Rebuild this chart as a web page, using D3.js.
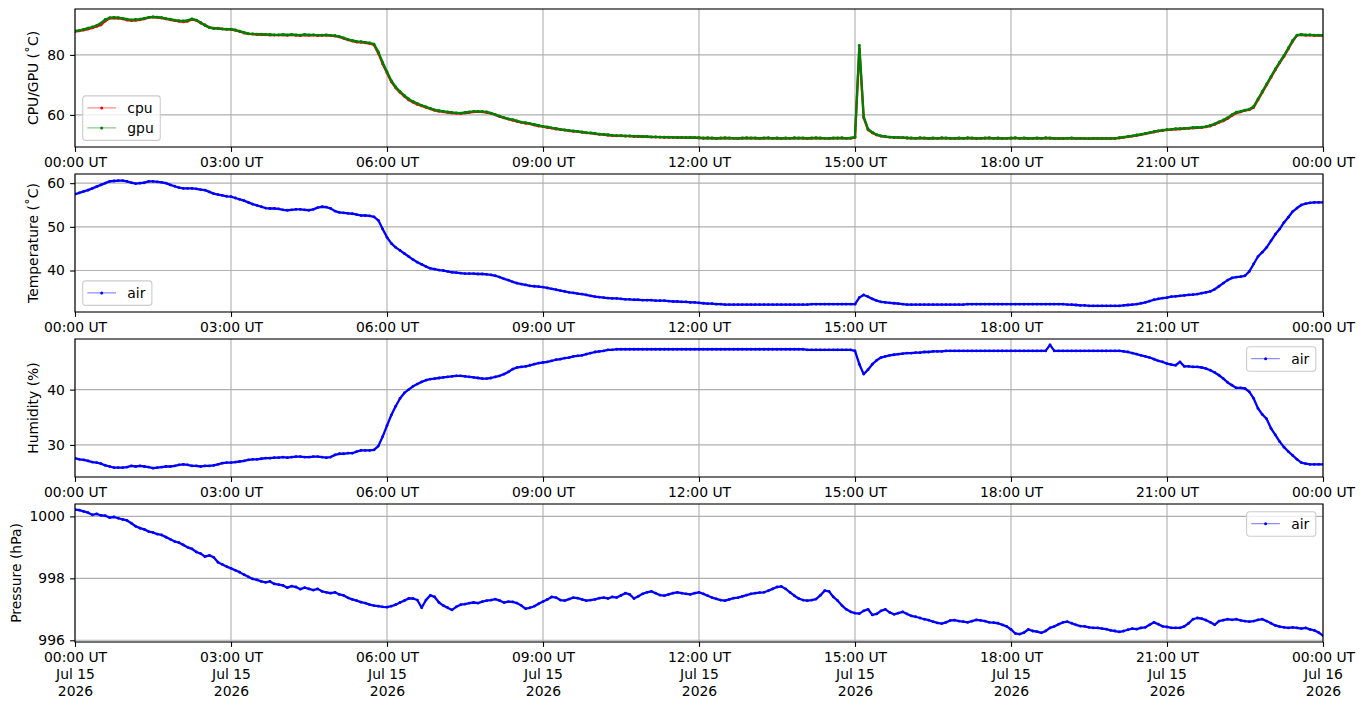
<!DOCTYPE html>
<html>
<head>
<meta charset="utf-8">
<script src="https://cdn.jsdelivr.net/npm/d3@7"></script>
<style>
body { margin: 0; background: #fff; }
svg { font-family: "DejaVu Sans", sans-serif; }
</style>
</head>
<body>
<svg id="chart"></svg>
<script>
var width = 1364;
var height = 707;
var margin = {'left': 75, 'right': 41, 'top': 9};
var panelHeight = 138;
var panelStep = 165;
var fontSize = 13.9;

// sampling: one value every 5 minutes, 00:00 UT to 24:00 UT
const startTime = "2026-07-15T00:00:00Z";
const endTime = "2026-07-16T00:00:00Z";
const stepMinutes = 5;

const cpuTemp = [
  87.8, 88.0, 88.3, 88.6, 89.0, 89.5, 90.0, 91.3, 92.2, 92.3, 92.2, 92.0,
  91.6, 91.4, 91.5, 91.7, 92.0, 92.4, 92.6, 92.5, 92.3, 92.0, 91.7, 91.4,
  91.2, 91.0, 91.2, 91.8, 91.5, 90.6, 90.0, 89.2, 88.9, 88.8, 88.7, 88.6,
  88.5, 88.2, 87.8, 87.3, 87.0, 86.9, 86.8, 86.7, 86.7, 86.6, 86.6, 86.6,
  86.6, 86.5, 86.7, 86.5, 86.4, 86.6, 86.5, 86.6, 86.4, 86.5, 86.5, 86.4,
  86.3, 86.0, 85.5, 85.0, 84.6, 84.3, 84.2, 84.0, 83.8, 83.3, 80.5, 77.0,
  74.0, 71.0, 69.0, 67.5, 66.2, 65.0, 64.2, 63.5, 63.0, 62.5, 62.0, 61.5,
  61.2, 61.0, 60.8, 60.6, 60.5, 60.4, 60.6, 60.8, 61.0, 61.1, 61.0, 60.8,
  60.5, 60.0, 59.4, 59.0, 58.6, 58.2, 57.8, 57.5, 57.2, 57.0, 56.6, 56.3,
  56.1, 55.8, 55.6, 55.3, 55.1, 54.9, 54.7, 54.5, 54.4, 54.2, 54.0, 53.9,
  53.7, 53.5, 53.4, 53.2, 53.1, 53.0, 53.0, 52.9, 52.9, 52.8, 52.8, 52.7,
  52.7, 52.6, 52.6, 52.6, 52.5, 52.5, 52.5, 52.4, 52.4, 52.4, 52.4, 52.4,
  52.3, 52.2, 52.3, 52.2, 52.1, 52.2, 52.3, 52.2, 52.2, 52.1, 52.2, 52.3,
  52.2, 52.2, 52.1, 52.2, 52.3, 52.2, 52.2, 52.1, 52.2, 52.2, 52.3, 52.2,
  52.2, 52.1, 52.2, 52.3, 52.2, 52.2, 52.1, 52.2, 52.2, 52.3, 52.2, 52.2,
  52.5, 82.0, 59.0, 55.0, 54.0, 53.3, 52.9, 52.7, 52.6, 52.5, 52.4, 52.4,
  52.3, 52.2, 52.2, 52.3, 52.2, 52.1, 52.2, 52.2, 52.3, 52.2, 52.2, 52.1,
  52.2, 52.2, 52.3, 52.2, 52.1, 52.2, 52.2, 52.3, 52.2, 52.2, 52.1, 52.2,
  52.2, 52.3, 52.2, 52.2, 52.1, 52.2, 52.2, 52.2, 52.3, 52.2, 52.1, 52.2,
  52.1, 52.2, 52.2, 52.1, 52.2, 52.1, 52.1, 52.2, 52.1, 52.1, 52.2, 52.1,
  52.2, 52.3, 52.5, 52.7, 52.9, 53.1, 53.4, 53.7, 54.0, 54.3, 54.6, 54.8,
  55.0, 55.1, 55.2, 55.3, 55.4, 55.5, 55.6, 55.7, 55.8, 56.0, 56.3, 56.8,
  57.5, 58.0, 58.8, 59.8, 60.6, 61.0, 61.5, 61.7, 62.5, 65.0, 67.5, 70.0,
  72.5, 75.0, 77.3, 79.5, 82.0, 84.5, 86.5, 86.7, 86.5, 86.6, 86.4, 86.5,
  86.4
];

const gpuTemp = [
  88.0, 88.2, 88.5, 88.9, 89.3, 89.8, 90.6, 91.8, 92.4, 92.5, 92.4, 92.2,
  91.9, 91.7, 91.8, 91.9, 92.2, 92.5, 92.7, 92.6, 92.4, 92.1, 91.9, 91.6,
  91.4, 91.3, 91.5, 92.0, 91.6, 90.8, 89.8, 89.1, 88.8, 88.9, 88.6, 88.5,
  88.6, 88.3, 87.9, 87.5, 87.1, 87.0, 86.9, 86.9, 86.8, 86.8, 86.7, 86.7,
  86.8, 86.7, 86.8, 86.7, 86.6, 86.8, 86.7, 86.7, 86.6, 86.6, 86.7, 86.5,
  86.4, 86.1, 85.7, 85.2, 84.8, 84.5, 84.4, 84.2, 84.0, 83.6, 81.0, 77.5,
  74.4, 71.4, 69.3, 67.8, 66.5, 65.3, 64.5, 63.8, 63.2, 62.7, 62.2, 61.7,
  61.4, 61.2, 61.0, 60.8, 60.7, 60.6, 60.8, 61.0, 61.2, 61.2, 61.1, 61.0,
  60.6, 60.1, 59.6, 59.1, 58.7, 58.4, 58.0, 57.6, 57.4, 57.1, 56.8, 56.5,
  56.2, 56.0, 55.7, 55.5, 55.2, 55.0, 54.8, 54.7, 54.5, 54.3, 54.1, 54.0,
  53.8, 53.6, 53.5, 53.4, 53.2, 53.1, 53.1, 53.0, 53.0, 52.9, 52.9, 52.8,
  52.8, 52.7, 52.7, 52.6, 52.6, 52.6, 52.5, 52.5, 52.5, 52.4, 52.5, 52.4,
  52.4, 52.3, 52.3, 52.3, 52.2, 52.3, 52.3, 52.3, 52.2, 52.2, 52.3, 52.3,
  52.3, 52.3, 52.2, 52.3, 52.3, 52.2, 52.3, 52.2, 52.3, 52.2, 52.3, 52.3,
  52.3, 52.2, 52.3, 52.3, 52.3, 52.2, 52.2, 52.3, 52.3, 52.3, 52.2, 52.3,
  52.6, 83.2, 59.5, 55.3, 54.2, 53.4, 53.0, 52.8, 52.6, 52.5, 52.5, 52.4,
  52.3, 52.3, 52.2, 52.3, 52.3, 52.2, 52.3, 52.2, 52.3, 52.3, 52.2, 52.2,
  52.3, 52.2, 52.3, 52.3, 52.2, 52.2, 52.3, 52.3, 52.2, 52.3, 52.2, 52.2,
  52.3, 52.3, 52.2, 52.3, 52.2, 52.2, 52.3, 52.2, 52.3, 52.3, 52.2, 52.2,
  52.2, 52.2, 52.3, 52.2, 52.2, 52.2, 52.1, 52.2, 52.2, 52.2, 52.2, 52.2,
  52.2, 52.4, 52.6, 52.8, 53.0, 53.3, 53.5, 53.8, 54.1, 54.4, 54.7, 54.9,
  55.1, 55.2, 55.4, 55.4, 55.5, 55.6, 55.8, 55.8, 55.9, 56.1, 56.5, 57.0,
  57.7, 58.3, 59.1, 60.1, 60.9, 61.2, 61.6, 61.9, 62.8, 65.3, 67.8, 70.3,
  72.8, 75.3, 77.6, 79.8, 82.3, 84.8, 86.6, 86.8, 86.7, 86.7, 86.6, 86.6,
  86.5
];

const airTemp = [
  57.5, 57.8, 58.1, 58.4, 58.8, 59.2, 59.6, 60.0, 60.4, 60.5, 60.6, 60.6,
  60.4, 60.1, 59.9, 60.0, 60.1, 60.4, 60.4, 60.3, 60.2, 60.0, 59.6, 59.3,
  59.0, 58.8, 58.8, 58.8, 58.7, 58.5, 58.4, 58.0, 57.6, 57.4, 57.2, 57.0,
  56.9, 56.6, 56.3, 56.0, 55.6, 55.2, 54.9, 54.6, 54.3, 54.2, 54.2, 54.1,
  53.9, 53.8, 53.9, 54.0, 54.0, 53.9, 53.8, 54.0, 54.4, 54.6, 54.5, 54.2,
  53.6, 53.3, 53.2, 53.1, 53.0, 52.8, 52.6, 52.6, 52.5, 52.3, 51.5, 49.5,
  47.6, 46.2, 45.3, 44.6, 43.9, 43.2, 42.5, 41.9, 41.4, 40.9, 40.5, 40.3,
  40.1, 40.0, 39.8, 39.6, 39.5, 39.4, 39.3, 39.3, 39.3, 39.2, 39.2, 39.1,
  39.0, 38.8, 38.5, 38.1, 37.8, 37.4, 37.1, 36.9, 36.7, 36.5, 36.4, 36.3,
  36.2, 36.0, 35.8, 35.6, 35.4, 35.2, 35.0, 34.9, 34.7, 34.6, 34.4, 34.2,
  34.0, 33.9, 33.8, 33.7, 33.6, 33.6, 33.5, 33.4, 33.4, 33.3, 33.3, 33.2,
  33.2, 33.2, 33.1, 33.1, 33.1, 33.0, 32.9, 32.9, 32.8, 32.8, 32.7, 32.7,
  32.6, 32.5, 32.4, 32.4, 32.3, 32.3, 32.2, 32.2, 32.2, 32.2, 32.2, 32.2,
  32.2, 32.2, 32.2, 32.2, 32.2, 32.2, 32.2, 32.2, 32.2, 32.2, 32.2, 32.2,
  32.2, 32.2, 32.3, 32.3, 32.3, 32.3, 32.3, 32.3, 32.3, 32.3, 32.3, 32.3,
  32.3, 33.8, 34.4, 34.0, 33.5, 33.1, 32.8, 32.7, 32.6, 32.5, 32.4, 32.3,
  32.2, 32.2, 32.2, 32.2, 32.2, 32.2, 32.2, 32.2, 32.2, 32.2, 32.2, 32.2,
  32.2, 32.2, 32.3, 32.3, 32.3, 32.3, 32.3, 32.3, 32.3, 32.3, 32.3, 32.3,
  32.3, 32.3, 32.3, 32.3, 32.3, 32.3, 32.3, 32.3, 32.3, 32.3, 32.3, 32.3,
  32.3, 32.2, 32.2, 32.1, 32.0, 32.0, 31.9, 31.9, 31.9, 31.9, 31.9, 31.9,
  31.9, 31.9, 32.0, 32.1, 32.2, 32.3, 32.5, 32.7, 33.0, 33.3, 33.5, 33.7,
  33.8, 34.0, 34.1, 34.2, 34.3, 34.4, 34.5, 34.6, 34.8, 35.0, 35.2, 35.7,
  36.4, 37.1, 37.8, 38.3, 38.5, 38.6, 38.8, 39.8, 41.5, 43.2, 44.2, 45.3,
  46.8, 48.3, 49.5, 51.0, 52.2, 53.5, 54.3, 55.0, 55.3, 55.5, 55.6, 55.6,
  55.6
];

const airHumidity = [
  27.6, 27.4, 27.3, 27.1, 26.9, 26.8, 26.6, 26.3, 26.1, 25.9, 25.9, 25.9,
  26.0, 26.2, 26.1, 26.2, 26.1, 26.0, 25.8, 25.9, 26.0, 26.1, 26.1, 26.2,
  26.4, 26.5, 26.4, 26.2, 26.2, 26.1, 26.2, 26.2, 26.3, 26.5, 26.7, 26.8,
  26.8, 26.9, 27.0, 27.1, 27.3, 27.4, 27.4, 27.5, 27.6, 27.6, 27.7, 27.7,
  27.8, 27.7, 27.8, 27.9, 27.9, 27.8, 27.8, 27.9, 27.9, 27.8, 27.7, 27.8,
  28.2, 28.4, 28.4, 28.5, 28.5, 28.8, 29.0, 29.0, 29.0, 29.1, 29.8, 31.5,
  33.5, 35.4, 37.0, 38.4, 39.4, 40.0, 40.6, 41.0, 41.4, 41.7, 41.9, 42.0,
  42.1, 42.2, 42.3, 42.4, 42.5, 42.5, 42.4, 42.3, 42.2, 42.1, 42.0, 42.0,
  42.1, 42.3, 42.5, 42.8, 43.2, 43.7, 44.0, 44.1, 44.2, 44.4, 44.6, 44.8,
  44.9, 45.0, 45.2, 45.4, 45.5, 45.7, 45.8, 46.0, 46.1, 46.2, 46.4, 46.6,
  46.8, 46.9, 47.0, 47.2, 47.2, 47.3, 47.3, 47.3, 47.3, 47.3, 47.3, 47.3,
  47.3, 47.3, 47.3, 47.3, 47.3, 47.3, 47.3, 47.3, 47.3, 47.3, 47.3, 47.3,
  47.3, 47.3, 47.3, 47.3, 47.3, 47.3, 47.3, 47.3, 47.3, 47.3, 47.3, 47.3,
  47.3, 47.3, 47.3, 47.3, 47.3, 47.3, 47.3, 47.3, 47.3, 47.3, 47.3, 47.3,
  47.3, 47.2, 47.2, 47.2, 47.2, 47.2, 47.2, 47.2, 47.2, 47.2, 47.2, 47.2,
  47.0, 44.6, 42.8, 43.6, 44.6, 45.3, 45.8, 46.0, 46.2, 46.3, 46.4, 46.5,
  46.6, 46.6, 46.7, 46.7, 46.8, 46.8, 46.9, 46.9, 46.9, 47.0, 47.0, 47.0,
  47.0, 47.0, 47.0, 47.0, 47.0, 47.0, 47.0, 47.0, 47.0, 47.0, 47.0, 47.0,
  47.0, 47.0, 47.0, 47.0, 47.0, 47.0, 47.0, 47.0, 47.0, 48.1, 47.0, 47.0,
  47.0, 47.0, 47.0, 47.0, 47.0, 47.0, 47.0, 47.0, 47.0, 47.0, 47.0, 47.0,
  47.0, 47.0, 46.9, 46.8, 46.6, 46.4, 46.2, 46.0, 45.8, 45.5, 45.2, 45.0,
  44.7, 44.5, 44.4, 45.0, 44.2, 44.2, 44.1, 44.1, 44.0, 43.8, 43.5, 43.1,
  42.6, 42.0, 41.3, 40.8, 40.3, 40.3, 40.2, 39.6, 38.4, 36.6, 35.5, 34.7,
  33.0, 31.8, 30.6, 29.6, 28.8, 28.1, 27.4, 26.8, 26.6, 26.5, 26.5, 26.5,
  26.5
];

const airPressure = [
  1000.22, 1000.20, 1000.16, 1000.12, 1000.05, 1000.08, 1000.03, 1000.02, 999.96, 999.98, 999.94, 999.90,
  999.87, 999.78, 999.68, 999.62, 999.58, 999.51, 999.48, 999.43, 999.40, 999.33, 999.26, 999.19,
  999.15, 999.08, 999.00, 998.95, 998.85, 998.80, 998.70, 998.74, 998.68, 998.52, 998.45, 998.38,
  998.32, 998.26, 998.20, 998.12, 998.05, 997.98, 997.95, 997.90, 997.87, 997.90, 997.82, 997.80,
  997.77, 997.70, 997.75, 997.72, 997.65, 997.70, 997.66, 997.62, 997.66, 997.58, 997.55, 997.52,
  997.55, 997.48, 997.45, 997.37, 997.32, 997.28, 997.23, 997.20, 997.15, 997.12, 997.10, 997.08,
  997.07, 997.10, 997.15, 997.22, 997.28, 997.35, 997.35, 997.30, 997.05, 997.30, 997.45, 997.40,
  997.22, 997.12, 997.05, 996.98, 997.08, 997.15, 997.17, 997.20, 997.22, 997.20, 997.25, 997.28,
  997.30, 997.33, 997.28, 997.22, 997.25, 997.24, 997.20, 997.12, 997.02, 997.05, 997.10, 997.18,
  997.25, 997.32, 997.40, 997.38, 997.30, 997.28, 997.33, 997.38, 997.36, 997.32, 997.28, 997.30,
  997.32, 997.36, 997.38, 997.35, 997.40, 997.38, 997.45, 997.52, 997.48, 997.35, 997.42, 997.50,
  997.55, 997.58, 997.52, 997.46, 997.44, 997.48, 997.52, 997.55, 997.52, 997.50, 997.48, 997.52,
  997.55, 997.50, 997.44, 997.38, 997.34, 997.30, 997.28, 997.32, 997.36, 997.38, 997.42, 997.46,
  997.50, 997.52, 997.54, 997.55, 997.60, 997.66, 997.72, 997.74, 997.66, 997.55, 997.44, 997.35,
  997.30, 997.28, 997.30, 997.33, 997.45, 997.60, 997.58, 997.40, 997.28, 997.12, 997.00, 996.92,
  996.88, 996.86, 996.95, 997.00, 996.82, 996.85, 996.95, 997.00, 996.90, 996.84, 996.88, 996.92,
  996.85, 996.79, 996.76, 996.72, 996.68, 996.65, 996.60, 996.56, 996.54, 996.58, 996.64, 996.65,
  996.62, 996.60, 996.58, 996.62, 996.66, 996.64, 996.62, 996.58, 996.57, 996.55, 996.50, 996.45,
  996.35, 996.22, 996.20, 996.25, 996.35, 996.30, 996.28, 996.24, 996.30, 996.40, 996.45, 996.52,
  996.58, 996.60, 996.55, 996.50, 996.46, 996.45, 996.42, 996.40, 996.40, 996.38, 996.36, 996.32,
  996.30, 996.27, 996.30, 996.34, 996.38, 996.36, 996.40, 996.42, 996.50, 996.58, 996.52, 996.45,
  996.43, 996.40, 996.40, 996.40, 996.45, 996.55, 996.68, 996.72, 996.70, 996.65, 996.58, 996.50,
  996.62, 996.65, 996.68, 996.66, 996.68, 996.64, 996.62, 996.60, 996.62, 996.66, 996.68, 996.62,
  996.55, 996.48, 996.44, 996.42, 996.40, 996.42, 996.40, 996.38, 996.40, 996.35, 996.32, 996.25,
  996.15
];

// y axes
const cpuDomain = [49.3, 95.3];
const cpuTicks = [60, 80];
const tempDomain = [30.5, 62.1];
const tempTicks = [40, 50, 60];
const humDomain = [24.2, 49.15];
const humTicks = [30, 40];
const presDomain = [995.945, 1000.40];
const presTicks = [996, 998, 1000];
const yLabels = ['CPU/GPU (\u02DAC)', 'Temperature (\u02DAC)', 'Humidity (%)', 'Pressure (hPa)'];

const t0 = new Date(startTime);
const times = cpuTemp.map((d, i) => new Date(t0.getTime() + i * stepMinutes * 60000));

var x = d3.scaleUtc()
    .domain([new Date(startTime), new Date(endTime)])
    .range([margin.left, width - margin.right]);

const xTicks = d3.utcHour.every(3).range(new Date(startTime), new Date(new Date(endTime).getTime() + 1));
const fmtTime = d => d3.utcFormat('%H:%M')(d) + ' UT';
const fmtDay = d3.utcFormat('%b %d');
const fmtYear = d3.utcFormat('%Y');

const svg = d3.select('#chart')
    .attr('width', width)
    .attr('height', height)
    .attr('font-size', fontSize);

const panels = [
  {domain: cpuDomain, ticks: cpuTicks, label: yLabels[0], legend: 'lower left',
   series: [{name: 'cpu', values: cpuTemp, color: '#ff0000'}, {name: 'gpu', values: gpuTemp, color: '#008000'}]},
  {domain: tempDomain, ticks: tempTicks, label: yLabels[1], legend: 'lower left',
   series: [{name: 'air', values: airTemp, color: '#0000ff'}]},
  {domain: humDomain, ticks: humTicks, label: yLabels[2], legend: 'upper right',
   series: [{name: 'air', values: airHumidity, color: '#0000ff'}]},
  {domain: presDomain, ticks: presTicks, label: yLabels[3], legend: 'upper right',
   series: [{name: 'air', values: airPressure, color: '#0000ff'}]}
];

panels.forEach((p, k) => {
  const top = margin.top + k * panelStep;
  const bottom = top + panelHeight;
  const left = margin.left, right = width - margin.right;

  var y = d3.scaleLinear().domain(p.domain).range([bottom, top]);
  const g = svg.append('g');

  g.append('clipPath').attr('id', 'clip' + k)
    .append('rect').attr('x', left).attr('y', top).attr('width', right - left).attr('height', panelHeight);

  // grid
  g.append('g').selectAll('line').data(xTicks).join('line')
    .attr('x1', d => x(d)).attr('x2', d => x(d)).attr('y1', top).attr('y2', bottom)
    .attr('stroke', '#b0b0b0').attr('stroke-width', 1.1);
  g.append('g').selectAll('line').data(p.ticks).join('line')
    .attr('x1', left).attr('x2', right).attr('y1', d => y(d)).attr('y2', d => y(d))
    .attr('stroke', '#b0b0b0').attr('stroke-width', 1.1);

  const line = d3.line().x((d, i) => x(times[i])).y(d => y(d));
  const plot = g.append('g').attr('clip-path', 'url(#clip' + k + ')');
  p.series.forEach(s => {
    plot.append('path').datum(s.values)
      .attr('fill', 'none').attr('stroke', s.color).attr('stroke-width', 2.3)
      .attr('stroke-linejoin', 'round').attr('d', line);
    plot.append('g').selectAll('circle').data(s.values).join('circle')
      .attr('cx', (d, i) => x(times[i])).attr('cy', d => y(d)).attr('r', 1.4)
      .attr('fill', s.color);
  });

  // spines
  g.append('rect').attr('x', left).attr('y', top).attr('width', right - left).attr('height', panelHeight)
    .attr('fill', 'none').attr('stroke', '#000').attr('stroke-width', 1.1);

  // x axis
  const xAxis = d3.axisBottom(x).tickValues(xTicks).tickSize(4.9).tickPadding(5.5).tickFormat(fmtTime);
  const xg = g.append('g').attr('transform', `translate(0,${bottom})`).call(xAxis);
  xg.select('.domain').remove();
  xg.selectAll('.tick line').attr('stroke', '#000').attr('stroke-width', 1.1);
  xg.selectAll('.tick text').attr('fill', '#000').attr('font-size', fontSize).attr('font-family', 'DejaVu Sans');
  if (k === panels.length - 1) {
    xg.selectAll('.tick text').text(null).selectAll('tspan')
      .data(d => [fmtTime(d), fmtDay(d), fmtYear(d)])
      .join('tspan').attr('x', 0).attr('dy', (d, i) => i ? '1.2em' : '0.71em').text(d => d);
  }

  // y axis
  const yAxis = d3.axisLeft(y).tickValues(p.ticks).tickSize(4.9).tickPadding(5.3).tickFormat(d3.format('d'));
  const yg = g.append('g').attr('transform', `translate(${left},0)`).call(yAxis);
  yg.select('.domain').remove();
  yg.selectAll('.tick line').attr('stroke', '#000').attr('stroke-width', 1.1);
  yg.selectAll('.tick text').attr('fill', '#000').attr('font-size', fontSize).attr('font-family', 'DejaVu Sans');

  const tickLeft = d3.min(yg.selectAll('.tick text').nodes(), n => n.getBBox().x) + left;
  const lx = tickLeft - 5.6 - 3.3;
  const ly = (top + bottom) / 2;
  g.append('text').attr('x', lx).attr('y', ly)
    .attr('transform', `rotate(-90,${lx},${ly})`)
    .attr('text-anchor', 'middle').attr('fill', '#000')
    .text(p.label);

  // legend
  const rowH = 20;
  const lg = g.append('g');
  const frame = lg.append('rect');
  const labels = lg.selectAll('text').data(p.series).join('text')
    .attr('x', 44.6).attr('y', (d, i) => 12 + i * rowH).attr('dy', '0.35em')
    .attr('fill', '#000').text(d => d.name);
  const textW = d3.max(labels.nodes(), n => n.getComputedTextLength());
  const fw = 44.6 + textW + 6.5;
  const fh = 24.5 + (p.series.length - 1) * rowH;
  frame.attr('width', fw).attr('height', fh).attr('rx', 2.8)
    .attr('fill', '#fff').attr('fill-opacity', 0.8)
    .attr('stroke', '#cccccc').attr('stroke-width', 1.1);
  lg.selectAll('line').data(p.series).join('line')
    .attr('x1', 4.6).attr('x2', 33.3).attr('y1', (d, i) => 12 + i * rowH).attr('y2', (d, i) => 12 + i * rowH)
    .attr('stroke', d => d.color).attr('stroke-opacity', 0.7).attr('stroke-width', 0.8);
  lg.selectAll('circle').data(p.series).join('circle')
    .attr('cx', 19).attr('cy', (d, i) => 12 + i * rowH).attr('r', 1.5).attr('fill', d => d.color);
  var lxPos, lyPos;
  if (p.legend === 'lower left') { lxPos = left + 7.7; lyPos = bottom - 6.6 - fh; }
  else { lxPos = right - 7.2 - fw; lyPos = top + 7.7; }
  lg.attr('transform', `translate(${lxPos},${lyPos})`);
});
</script>
</body>
</html>
